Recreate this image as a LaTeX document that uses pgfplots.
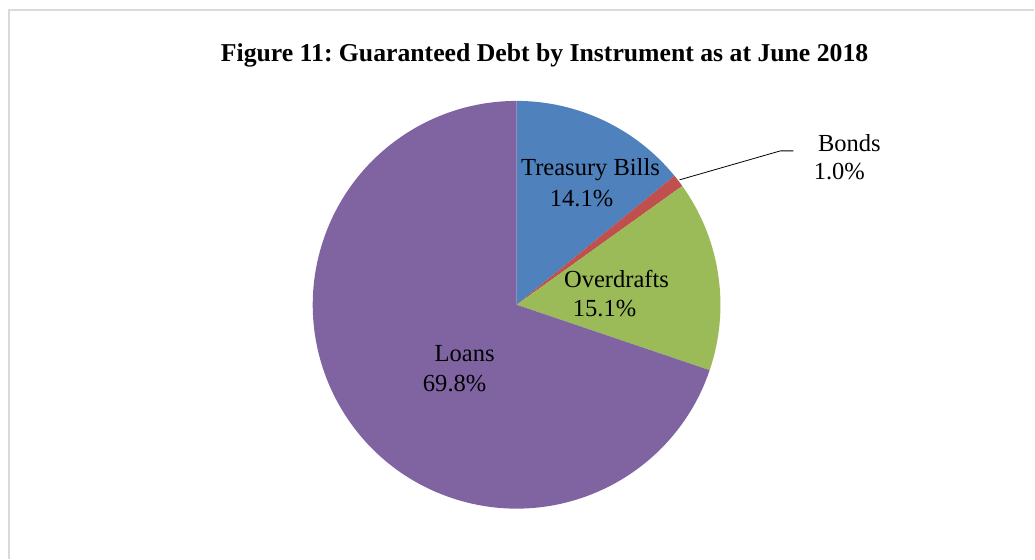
\documentclass[border=0pt]{standalone}
\usepackage{fontspec}
\setmainfont{Liberation Serif}
\usepackage{pgfplots}
\pgfplotsset{compat=1.18}
\definecolor{cTB}{HTML}{4F81BD}
\definecolor{cBO}{HTML}{C0504D}
\definecolor{cOV}{HTML}{9BBB59}
\definecolor{cLO}{HTML}{8064A2}
\definecolor{frame}{HTML}{D9D9D9}
\frenchspacing
\begin{document}
\begin{tikzpicture}
% shares (%)
\def\vTB{14.1}
\def\vBO{1.0}
\def\vOV{15.1}
\def\vLO{69.8}
\pgfmathsetmacro\aA{90}
\pgfmathsetmacro\aB{\aA-3.6*\vTB}
\pgfmathsetmacro\aC{\aB-3.6*\vBO}
\pgfmathsetmacro\aD{\aC-3.6*\vOV}
\pgfmathsetmacro\aE{\aD-3.6*\vLO}
\begin{axis}[hide axis, scale only axis, width=776.25pt, height=419.25pt,
  xmin=0, xmax=1035, ymin=0, ymax=559, clip=false]
\path (axis cs:0,0) rectangle (axis cs:1035,559);
\draw[frame, line width=1.2pt] (axis cs:9,0) -- (axis cs:9,549) -- (axis cs:1035,549);
\node[font=\bfseries\fontsize{19.3}{22}\selectfont] at (axis cs:545,504) {Figure 11: Guaranteed Debt by Instrument as at June 2018};
\fill[cTB] (axis cs:517,254) -- ++(\aA:153pt) arc[start angle=\aA, end angle=\aB, radius=153pt] -- cycle;
\fill[cBO] (axis cs:517,254) -- ++(\aB:153pt) arc[start angle=\aB, end angle=\aC, radius=153pt] -- cycle;
\fill[cOV] (axis cs:517,254) -- ++(\aC:153pt) arc[start angle=\aC, end angle=\aD, radius=153pt] -- cycle;
\fill[cLO] (axis cs:517,254) -- ++(\aD:153pt) arc[start angle=\aD, end angle=\aE, radius=153pt] -- cycle;
\draw[black, line width=0.6pt] (axis cs:680,379) -- (axis cs:781,408) -- (axis cs:794,408);
\begin{scope}[every node/.style={font=\fontsize{18.4}{22}\selectfont, inner sep=0pt}]
\node at (axis cs:591,389) {Treasury Bills};
\node at (axis cs:582,360) {14.1\%};
\node at (axis cs:617,280) {Overdrafts};
\node at (axis cs:605,250) {15.1\%};
\node at (axis cs:465,205) {Loans};
\node at (axis cs:455,175) {69.8\%};
\node at (axis cs:850,416) {Bonds};
\node at (axis cs:840,387) {1.0\%};
\end{scope}
\end{axis}
\end{tikzpicture}
\end{document}
